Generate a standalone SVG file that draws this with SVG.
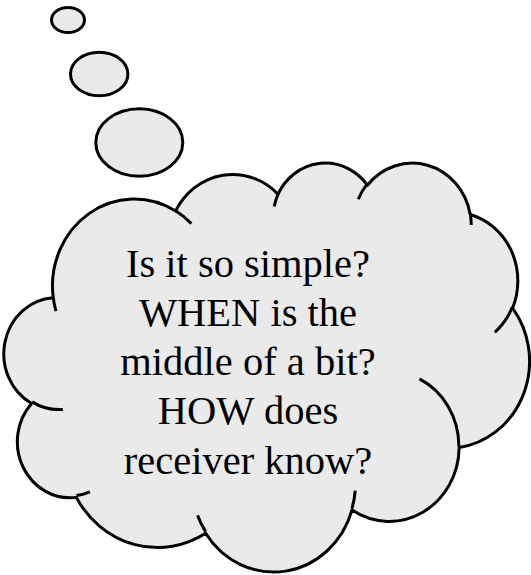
<svg xmlns="http://www.w3.org/2000/svg" width="531" height="575" viewBox="0 0 531 575">
  <style>
    .shape { fill: #eaeaea; stroke: #000000; stroke-width: 3; stroke-linejoin: round; }
    .inner { fill: none; stroke: #000000; stroke-width: 3; stroke-linecap: butt; }
    .label { font-family: "Liberation Serif", "Times New Roman", serif; font-size: 40.5px; fill: #000000; text-anchor: middle; }
  </style>
  <rect x="0" y="0" width="531" height="575" fill="#ffffff"/>
  <g id="connectors"></g>
  <g id="bubble-small">
    <ellipse class="shape" cx="68" cy="20" rx="16.5" ry="12.5"/>
  </g>
  <g id="bubble-medium">
    <ellipse class="shape" cx="99.2" cy="74" rx="28.7" ry="21.8"/>
  </g>
  <g id="bubble-large">
    <ellipse class="shape" cx="139.3" cy="142.5" rx="43.5" ry="33.7"/>
  </g>
  <g id="cloud">
    <path class="shape" d="M 53.24 297.70
      A 81.81 86.97 0 0 1 175.66 210.93
      A 64.60 68.77 0 0 1 278.04 194.20
      A 52.88 56.26 0 0 1 367.41 185.20
      A 58.84 62.41 0 0 1 470.20 214.49
      A 64.60 68.83 0 0 1 512.61 308.03
      A 82.07 87.26 0 0 1 459.13 447.55
      A 70.08 74.45 0 0 1 351.94 510.11
      A 81.79 87.21 0 0 1 205.64 533.29
      A 93.52 99.78 0 0 1 76.30 497.38
      A 52.82 56.01 0 0 1 31.60 403.46
      A 52.64 56.26 0 0 1 53.24 297.70 Z"/>
    <path class="inner" d="M 62.85 409.44 A 52.64 56.26 0 0 1 32.16 401.89
      M 89.93 491.98 A 52.82 56.01 0 0 1 76.50 495.59
      M 205.62 531.65 A 81.79 87.21 0 0 1 197.53 515.18
      M 355.21 490.58 A 81.79 87.21 0 0 1 351.98 508.65
      M 419.44 378.94 A 70.08 74.45 0 0 1 458.83 446.47
      M 512.34 307.01 A 64.60 68.83 0 0 1 494.79 332.35
      M 470.26 213.05 A 58.84 62.41 0 0 1 471.18 225.01
      M 358.25 199.10 A 58.84 62.41 0 0 1 367.23 183.85
      M 274.22 206.37 A 52.88 56.26 0 0 1 278.57 193.22
      M 175.60 210.84 A 81.81 86.97 0 0 1 191.36 223.62
      M 55.99 311.13 A 81.81 86.97 0 0 1 53.25 297.71"/>
    <text class="label" x="248" y="276.5">Is it so simple?</text>
    <text class="label" x="248" y="325.8">WHEN is the</text>
    <text class="label" x="248" y="375.1">middle of a bit?</text>
    <text class="label" x="248" y="424.4">HOW does</text>
    <text class="label" x="248" y="473.7">receiver know?</text>
  </g>
</svg>
